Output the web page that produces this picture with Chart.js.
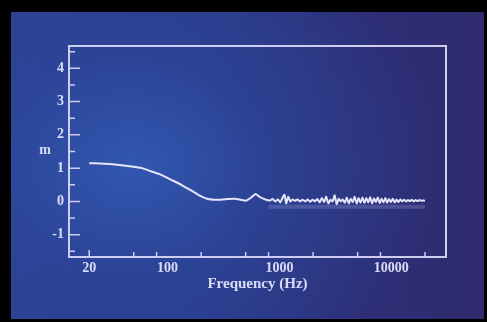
<!DOCTYPE html>
<html>
<head>
<meta charset="utf-8">
<script src="https://cdn.jsdelivr.net/npm/chart.js@4/dist/chart.umd.min.js"></script>
<style>
    html, body { margin: 0; padding: 0; background: #000; width: 487px; height: 322px; overflow: hidden; }
    #bg {
        position: absolute; left: 11px; top: 12px; width: 473px; height: 307px;
        background:
            radial-gradient(ellipse 65% 80% at 26% 50%, rgba(50,88,178,0.95) 0%, rgba(44,72,155,0.6) 45%, rgba(40,45,115,0) 100%),
            linear-gradient(90deg, #2c4094 0%, #2b3a8a 40%, #2d2f78 72%, #2f2b6e 100%);
    }
    #chart { position: absolute; left: 0; top: 0; }
</style>
</head>
<body>
<div id="bg"></div>
<canvas id="chart" width="487" height="322"></canvas>
<script>
// Response curve: frequency (Hz) and m
const freqs = [
    20, 25, 32, 40, 48, 59, 72, 88, 108, 133, 163, 200, 230, 260, 300, 350, 400, 450, 500, 540,
    575, 615, 655, 700, 760, 820, 870, 920, 970, 1020, 1070, 1110, 1150, 1200, 1250, 1310, 1380, 1450,
    1530, 1610, 1700, 1790, 1880, 1980, 2080, 2180, 2290, 2400, 2510, 2620, 2740, 2860, 2990, 3120,
    3250, 3390, 3530, 3680, 3840, 4000, 4170, 4340, 4520, 4710, 4900, 5100, 5310, 5530, 5750, 5980,
    6220, 6470, 6730, 7000, 7280, 7570, 7870, 8180, 8500, 8840, 9190, 9550, 9930, 10320, 10730, 11150,
    11590, 12050, 12530, 13030, 13550, 14090, 14650, 15230, 15830, 16460, 17110, 17790, 18500, 19230, 20000
];
const mValues = [
    1.15, 1.14, 1.12, 1.08, 1.05, 1.0, 0.9, 0.8, 0.65, 0.5, 0.33, 0.15, 0.07, 0.05, 0.05, 0.07, 0.08, 0.05, 0.02, 0.08,
    0.15, 0.22, 0.15, 0.10, 0.05, 0.03, 0.07, 0.0, 0.06, -0.03, 0.12, 0.2, -0.06, 0.14, 0.0, 0.06, 0.02, 0.06,
    0.0, 0.05, 0.0, 0.06, -0.01, 0.05, 0.0, 0.07, -0.03, 0.1, -0.02, 0.14, -0.06, 0.05, 0.0, 0.18,
    -0.08, 0.08, 0.0, 0.06, -0.04, 0.12, -0.06, 0.08, -0.02, 0.14, -0.06, 0.1, -0.04, 0.12, -0.05, 0.1,
    -0.03, 0.13, -0.06, 0.09, -0.02, 0.12, -0.05, 0.08, -0.03, 0.1, -0.04, 0.07, -0.02, 0.08, -0.03, 0.06,
    -0.02, 0.06, 0.0, 0.05, 0.0, 0.04, 0.01, 0.05, 0.0, 0.04, 0.01, 0.04, 0.02, 0.03, 0.02
];

// faint band under the noisy part
const bandFreqs = [800, 20000];
const bandValues = [-0.16, -0.16];

const xTickValues = [20, 30, 40, 50, 60, 70, 80, 90, 100, 200, 300, 400, 500, 600, 700, 800, 900,
    1000, 2000, 3000, 4000, 5000, 6000, 7000, 8000, 9000, 10000, 20000];
const xLabels = [20, 100, 1000, 10000];
const xMajor = [100, 1000, 10000];
const yTickValues = [-1.5, -1, -0.5, 0, 0.5, 1, 1.5, 2, 2.5, 3, 3.5, 4, 4.5];
const yLabels = [-1, 0, 1, 2, 3, 4];

const ink = 'rgba(232,232,255,0.92)';
const frameInk = 'rgba(215,212,245,0.95)';
const serif = '"Liberation Serif", "DejaVu Serif", serif';

/**
 * Frame, inward tick marks, tick labels and axis names
 */
const framePlugin = {
    id: 'frame',
    afterDraw(chart) {
        const { ctx, chartArea: a, scales } = chart;
        ctx.save();
        ctx.strokeStyle = frameInk;
        ctx.lineWidth = 2;
        ctx.strokeRect(a.left, a.top, a.right - a.left, a.bottom - a.top);

        ctx.lineWidth = 1.5;
        ctx.beginPath();
        scales.x.ticks.forEach(t => {
            const px = scales.x.getPixelForValue(t.value);
            const len = xMajor.includes(t.value) ? 10 : (t.value === 20 ? 7 : 5);
            ctx.moveTo(px, a.bottom);
            ctx.lineTo(px, a.bottom - len);
        });
        scales.y.ticks.forEach(t => {
            const py = scales.y.getPixelForValue(t.value);
            const len = yLabels.includes(t.value) ? 11 : 6;
            ctx.moveTo(a.left, py);
            ctx.lineTo(a.left + len, py);
        });
        ctx.stroke();

        ctx.fillStyle = ink;
        ctx.font = 'bold 14px ' + serif;
        ctx.textBaseline = 'middle';

        ctx.textAlign = 'center';
        xLabels.forEach(v => ctx.fillText(String(v), scales.x.getPixelForValue(v), a.bottom + 11));

        ctx.textAlign = 'right';
        yLabels.forEach(v => ctx.fillText(String(v), a.left - 5, scales.y.getPixelForValue(v)));

        ctx.textAlign = 'center';
        ctx.fillText('m', 45, 150);
        ctx.font = 'bold 15px ' + serif;
        ctx.fillText('Frequency (Hz)', (a.left + a.right) / 2, a.bottom + 27);
        ctx.restore();
    }
};

new Chart(document.getElementById('chart'), {
    type: 'line',
    data: {
        datasets: [
            {
                label: 'band',
                data: bandFreqs.map((f, i) => ({ x: f, y: bandValues[i] })),
                borderColor: 'rgba(200,200,255,0.2)',
                borderWidth: 4,
                pointRadius: 0,
            },
            {
                label: 'm',
                data: freqs.map((f, i) => ({ x: f, y: mValues[i] })),
                borderColor: 'rgba(238,238,255,0.95)',
                borderWidth: 2,
                pointRadius: 0,
                tension: 0.2,
            }
        ]
    },
    options: {
        responsive: false,
        animation: false,
        devicePixelRatio: 1,
        layout: { padding: { left: 69, top: 46, right: 41, bottom: 65 } },
        plugins: { legend: { display: false }, tooltip: { enabled: false } },
        scales: {
            x: {
                type: 'logarithmic',
                display: false,
                min: 13.2,
                max: 30800,
                afterBuildTicks: s => { s.ticks = xTickValues.map(v => ({ value: v })); }
            },
            y: {
                display: false,
                min: -1.67,
                max: 4.67,
                afterBuildTicks: s => { s.ticks = yTickValues.map(v => ({ value: v })); }
            }
        }
    },
    plugins: [framePlugin]
});
</script>
</body>
</html>
